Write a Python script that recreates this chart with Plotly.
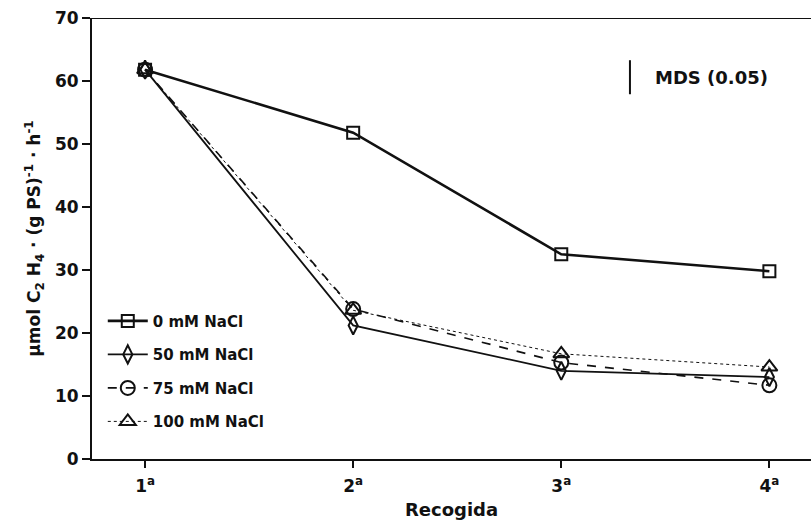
import plotly.graph_objects as go

# Harvest number (1ª … 4ª) and acetylene-reduction activity per NaCl treatment
harvests = [1, 2, 3, 4]
harvest_labels = ["1<sup>a</sup>", "2<sup>a</sup>", "3<sup>a</sup>", "4<sup>a</sup>"]

nacl_0 = [61.8, 51.8, 32.5, 29.8]
nacl_50 = [61.8, 21.2, 14.0, 13.0]
nacl_75 = [61.8, 23.8, 15.3, 11.7]
nacl_100 = [61.8, 23.6, 16.7, 14.6]

y_ticks = [0, 10, 20, 30, 40, 50, 60, 70]

FONT = "DejaVu Sans, Liberation Sans, Arial, sans-serif"
INK = "#111111"

series = [
    ("0 mM NaCl", nacl_0, "solid", 2.6, "square-open", 12),
    ("50 mM NaCl", nacl_50, "solid", 1.8, "diamond-tall-open", 13),
    ("75 mM NaCl", nacl_75, "dash", 1.6, "circle-open", 14),
    ("100 mM NaCl", nacl_100, "dot", 1.0, "triangle-up-open", 14),
]

fig = go.Figure()
for i, (name, vals, dash, width, symbol, size) in enumerate(series):
    fig.add_trace(go.Scatter(
        x=harvests, y=vals, name=name, mode="lines+markers",
        legendgroup=f"g{i}",
        line=dict(color=INK, width=width, dash=dash),
        marker=dict(symbol=symbol, size=size, color=INK,
                    line=dict(color=INK, width=2)),
    ))

fig.update_layout(
    width=811, height=528,
    margin=dict(l=92, r=0, t=18, b=69),
    paper_bgcolor="white", plot_bgcolor="white",
    font=dict(family=FONT, color=INK, size=16, weight="bold"),
    showlegend=True,
    legend=dict(
        x=0.015, y=0.35, xanchor="left", yanchor="top",
        bgcolor="rgba(0,0,0,0)", tracegroupgap=11,
        font=dict(family=FONT, size=15, color=INK, weight="bold"),
        itemwidth=40,
    ),
    xaxis=dict(
        range=[0.745, 4.2], tickvals=harvests, ticktext=harvest_labels,
        showgrid=False, zeroline=False, showline=True, linecolor=INK, linewidth=2,
        ticks="outside", ticklen=7, tickwidth=1.5, tickcolor=INK,
        ticklabelstandoff=4,
        tickfont=dict(family=FONT, size=17, weight="bold"),
        title=dict(text="Recogida", font=dict(family=FONT, size=18, weight="bold"),
                   standoff=8),
    ),
    yaxis=dict(
        range=[0, 70], tickvals=y_ticks,
        showgrid=False, zeroline=False, showline=True, linecolor=INK, linewidth=2,
        ticks="outside", ticklen=8, tickwidth=1.5, tickcolor=INK,
        tickfont=dict(family=FONT, size=17, weight="bold"),
        title=dict(
            text="µmol C<sub>2</sub> H<sub>4</sub> · (g PS)<sup>-1</sup> · h<sup>-1</sup>",
            font=dict(family=FONT, size=17, weight="bold"), standoff=10),
    ),
)

# Top frame line
fig.add_shape(type="line", xref="paper", yref="y", x0=0, x1=1, y0=70, y1=70,
              line=dict(color=INK, width=2))

# Least significant difference bar with its label
fig.add_shape(type="line", xref="x", yref="y", x0=3.33, x1=3.33, y0=57.9, y1=63.3,
              line=dict(color=INK, width=2))
fig.add_annotation(x=3.44, y=60.6, xref="x", yref="y", text="MDS (0.05)",
                   showarrow=False, xanchor="left", yanchor="middle",
                   font=dict(family=FONT, size=18, color=INK, weight="bold"))

fig.write_html("out.html")
